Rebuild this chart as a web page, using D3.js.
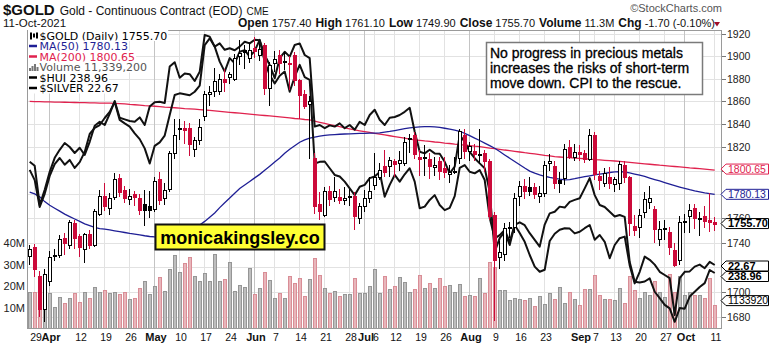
<!DOCTYPE html>
<html>
<head>
<meta charset="utf-8">
<script src="https://cdn.jsdelivr.net/npm/d3@7"></script>
<style>
  html, body { margin: 0; padding: 0; background: #fff; }
  svg { display: block; }
</style>
</head>
<body>
<svg id="chart" width="770" height="345"></svg>
<script>
// ---- Daily $GOLD continuous contract, 26-Mar-2021 .. 11-Oct-2021 ----
const firstDay = "2021-03-26";
const lastDay = "2021-10-11";
const marketHolidays = ["2021-04-02", "2021-05-31", "2021-07-05", "2021-09-06"];

const opens = [1729,1736,1713,1686,1709,1729,1730,1744,1738,1756,1745,1735,1747,1738,1764,1779,1769,1778,1794,1784,
  1776,1780,1777,1772,1770,1768,1793,1777,1785,1815,1836,1837,1837,1819,1826,1847,1867,1869,1869,1880,
  1882,1880,1900,1906,1899,1908,1901,1910,1872,1894,1901,1896,1894,1901,1879,1867,1858,1811,1772,1763,
  1783,1778,1778,1775,1779,1779,1760,1770,1777,1788,1795,1804,1804,1808,1807,1807,1828,1831,1812,1812,
  1810,1803,1808,1802,1797,1800,1811,1831,1817,1817,1814,1815,1808,1763,1728,1731,1753,1753,1779,1787,
  1786,1786,1779,1781,1807,1804,1792,1794,1820,1812,1816,1815,1810,1831,1796,1790,1795,1789,1790,1805,
  1795,1754,1753,1765,1774,1768,1743,1752,1749,1734,1726,1757,1762,1769,1760,1762,1759,1757.4];
const highs = [1738,1739,1717,1718,1733,1735,1746,1748,1759,1759,1747,1748,1750,1768,1784,1790,1781,1798,1797,1787,
  1785,1783,1780,1784,1783,1795,1799,1790,1817,1845,1845,1843,1841,1829,1845,1869,1874,1890,1884,1889,
  1886,1902,1915,1910,1912,1918,1911,1912,1895,1905,1906,1904,1900,1904,1880,1870,1865,1815,1782,1786,
  1787,1795,1785,1786,1785,1782,1773,1784,1795,1815,1807,1818,1812,1810,1817,1829,1832,1833,1818,1822,
  1815,1812,1812,1812,1805,1812,1836,1836,1825,1823,1836,1818,1810,1765,1741,1756,1757,1781,1791,1793,
  1795,1790,1787,1808,1814,1808,1799,1823,1826,1823,1822,1818,1836,1833,1800,1802,1803,1795,1808,1808,
  1796,1763,1768,1782,1787,1770,1758,1759,1753,1740,1762,1764,1772,1772,1765,1770,1781,1761.1];
const lows = [1722,1712,1680,1676,1705,1725,1727,1730,1735,1735,1728,1723,1735,1736,1762,1766,1763,1775,1778,1773,
  1771,1770,1763,1754,1760,1765,1771,1771,1782,1810,1826,1823,1813,1812,1822,1843,1856,1864,1866,1868,
  1875,1878,1892,1889,1894,1899,1896,1866,1856,1886,1884,1888,1870,1874,1845,1853,1810,1764,1759,1761,
  1770,1774,1772,1771,1770,1750,1755,1765,1773,1784,1792,1795,1795,1795,1800,1804,1815,1810,1796,1796,
  1793,1796,1792,1794,1790,1797,1806,1810,1808,1808,1806,1799,1759,1677,1718,1725,1744,1748,1770,1776,
  1779,1776,1773,1778,1800,1785,1781,1788,1810,1808,1808,1807,1808,1792,1784,1786,1785,1782,1784,1790,
  1745,1745,1744,1760,1768,1740,1737,1742,1730,1720,1722,1748,1748,1751,1745,1752,1749,1749.9];
const closes = [1735,1718,1686,1714,1728,1730,1743,1740,1757,1744,1736,1747,1738,1766,1779,1770,1777,1793,1782,1777,
  1779,1778,1767,1767,1767,1791,1775,1784,1815,1831,1837,1835,1823,1826,1838,1867,1868,1878,1880,1877,
  1884,1899,1903,1904,1906,1905,1907,1872,1892,1898,1894,1895,1893,1879,1866,1856,1860,1770,1766,1783,
  1776,1783,1775,1777,1779,1762,1770,1777,1783,1795,1801,1799,1809,1806,1809,1825,1828,1814,1810,1812,
  1804,1805,1800,1799,1799,1799,1834,1817,1821,1814,1814,1808,1762,1726,1732,1752,1752,1777,1787,1783,
  1783,1780,1781,1805,1808,1790,1790,1819,1812,1816,1814,1810,1831,1797,1792,1798,1790,1793,1806,1795,
  1756,1750,1763,1776,1777,1751,1751,1752,1736,1722,1757,1758,1767,1760,1760,1758,1757.4,1755.7];
// volume, millions of contracts
const volumes = [17.1,17.1,24.3,25.1,16.6,10.1,14.7,12.0,14.3,16.6,12.4,17.1,14.4,19.4,17.1,18.1,16.9,17.1,16.3,17.1,
  14.0,14.4,18.9,22.2,16.3,20.0,24.0,17.5,27.8,34.3,26.5,30.5,33.3,24.7,22.2,25.9,22.2,35.0,22.2,23.1,
  31.2,17.5,20.3,19.7,28.4,16.3,19.0,26.7,22.8,14.3,16.9,14.3,24.7,21.2,23.6,15.4,23.1,33.0,25.1,18.9,
  16.9,17.8,15.4,16.3,16.3,23.6,16.9,16.9,20.0,28.0,16.9,24.7,18.5,20.0,24.0,22.0,17.2,18.5,25.1,18.9,
  21.6,18.9,23.6,20.0,20.5,17.4,20.8,15.4,15.8,15.4,23.6,16.6,31.0,29.0,18.1,18.1,13.5,14.3,13.8,13.5,
  14.6,10.7,15.4,11.6,16.6,14.0,19.7,11.9,17.2,13.8,11.2,18.5,18.4,24.9,15.9,14.0,14.0,13.5,18.9,12.2,
  24.8,18.2,14.3,17.4,15.9,22.3,17.4,15.0,25.4,17.4,24.6,15.9,17.4,15.9,15.9,14.3,23.6,11.3392];
const ma50 = [1782,1780.5,1778,1774,1771,1768.5,1766,1763.5,1761.5,1759.5,1757.5,1755.5,1754,1752.5,1751.5,1751,1750.4,1749.7,1749,1748.3,
  1747.6,1747,1746.3,1745.6,1745,1744.6,1744.4,1744.5,1745,1745.8,1747,1748.5,1750,1752,1754.5,1757.5,1761,1764.5,1769,1773,
  1777,1781,1785,1788,1791,1794,1797,1800.5,1804,1807.5,1811,1815,1818.5,1821.5,1824.5,1826.5,1828,1829,1829.8,1830.4,
  1830.8,1831.1,1831.4,1831.6,1831.8,1832,1832.1,1832.2,1832.3,1832.4,1832.6,1833.2,1833.8,1834.6,1835.4,1836.2,1836.9,1837.4,1837.8,1838,
  1838,1837.8,1837.3,1836.6,1835.8,1835,1834,1832.2,1830.2,1828,1826,1823.8,1821.6,1819.3,1816.5,1813.6,1810.8,1808,1805.2,1802.4,
  1799.8,1798,1796.6,1795.4,1794.4,1793.6,1792.9,1792.4,1792.6,1793.3,1794.2,1795,1795.8,1796.5,1797.2,1797.9,1798.6,1799.2,1799.3,1799,
  1798.2,1797.3,1796.3,1795.2,1793.9,1792.6,1791.4,1790.1,1788.8,1787.5,1786.3,1785.1,1784,1783,1782.2,1781.4,1780.8,1780.13];
const ma200 = [1860,1859.9,1859.8,1859.7,1859.6,1859.5,1859.4,1859.3,1859.2,1859.1,1859,1858.9,1858.8,1858.7,1858.6,1858.6,1858.5,1858.4,1858.1,1857.8,
  1857.4,1857.1,1856.8,1856.4,1856.1,1855.8,1855.5,1855.1,1854.8,1854.5,1854.2,1853.8,1853.5,1853.2,1852.9,1852.5,1852.1,1851.7,1851.3,1850.9,
  1850.5,1850.1,1849.7,1849.3,1848.9,1848.5,1848.1,1847.7,1847.3,1846.9,1846.5,1846.1,1845.6,1845.1,1844.7,1844.2,1843.8,1842.8,1841.8,1840.8,
  1839.8,1838.9,1838,1837,1836.1,1835.1,1834.4,1833.7,1833,1832.2,1831.5,1830.8,1830.1,1829.4,1828.7,1828,1827.2,1826.5,1826.1,1825.6,
  1825.2,1824.7,1824.3,1823.8,1823.4,1822.9,1822.5,1822,1821.6,1821.1,1820.7,1820.1,1819.5,1819,1818.4,1817.8,1817.3,1816.7,1816.1,1815.5,
  1815,1814.4,1813.8,1813.2,1812.7,1812.1,1811.8,1811.5,1811.2,1810.9,1810.6,1810.3,1810,1809.6,1809.3,1809,1808.7,1808.4,1808,1807.6,
  1807.2,1806.8,1806.4,1806,1805.6,1805.2,1804.8,1804.5,1804.1,1803.7,1803.3,1802.9,1802.5,1802.2,1801.8,1801.4,1801,1800.65];
// comparison overlays
const hui = [271.2,268,259.6,263.7,269.3,273,274.9,272.8,274.3,271.8,273.6,276.8,282.4,284.3,285.2,287.4,289.3,292.4,286.8,285.7,
  284.7,282.6,280.8,277.9,273.2,278.7,279.8,281.9,288.3,294.6,295.1,294.8,294.5,295.6,297.5,310.2,312.3,309.7,305,301.9,
  306.1,304.5,308.1,308.6,306.6,308.4,311.8,305,300.8,298.2,300.6,301.9,295.6,300.3,304,300.2,299.3,273.2,273.7,273.8,
  271.7,269.6,269.1,267.5,265.4,263.3,265.9,266.5,268.6,269.1,270.5,262.8,266.5,269.6,267.5,269.8,271.7,267.5,259.2,259.7,
  261.8,263.3,260.2,258.6,259.3,263,271.8,272.7,270.6,270.1,271.1,268,256.2,249.8,250.8,252.4,248.7,254,254.8,253.9,
  251.4,249.3,247.2,254.1,257.6,258.1,259.7,259.4,261.2,261.8,262.3,265.4,268.6,263.3,260.2,259.6,258.1,256.6,257.1,256.5,
  242.4,236.2,236,236.3,237.3,233.1,231.1,229,227.9,223.7,228,227.8,231.6,233.1,234.6,235.8,239.9,238.96];
const silver = [25.25,25.15,24.17,24.55,25,25.35,25.55,25.72,25.62,25.47,25.6,25.42,25.75,26.15,26.25,26.17,26.45,26.77,26.35,26.31,
  26.27,26.25,26.36,26.17,26.63,26.74,26.75,26.72,27.63,27.74,27.35,27.46,27.44,27.27,27.5,28.42,28.38,28.13,28.21,28.05,
  28.09,28.04,28.13,28.25,28.21,28.3,28.29,27.92,27.67,27.34,27.84,28,27.88,28.17,28.21,27.92,27.84,26.13,26.17,26.09,
  26.16,26.13,26.21,26.09,26.17,26.05,26.25,26.17,26.42,26.55,26.3,26.17,26.35,26.37,26.42,26.5,26.6,26,25.5,25.46,
  25.55,25.46,25.45,25.25,24.96,25.13,25.92,25.75,25.5,25.34,25.21,25.09,24.5,23,23.34,23.5,23.17,23.67,23.47,23.25,
  22.92,22.63,22.5,22.55,23.27,23.45,23.55,23.59,23.58,23.46,23.5,23.59,23.67,23.3,23.42,23.25,22.84,23.17,23.34,23.38,
  22.66,22.21,22.5,22.88,22.8,22.68,22.5,22.42,22.34,21.42,22.34,22.5,22.51,22.63,22.68,22.59,22.75,22.67];

const priceTicks = d3.range(1680, 1921, 20);
const volumeTicks = [10, 20, 30, 40];
const dateTicks = ["2021-03-29","2021-04-01","2021-04-12","2021-04-19","2021-04-26","2021-05-03","2021-05-10",
  "2021-05-17","2021-05-24","2021-06-01","2021-06-07","2021-06-14","2021-06-21","2021-06-28","2021-07-01",
  "2021-07-06","2021-07-12","2021-07-19","2021-07-26","2021-08-02","2021-08-09","2021-08-16","2021-08-23",
  "2021-09-01","2021-09-07","2021-09-13","2021-09-20","2021-09-27","2021-10-01","2021-10-11"];
const monthStarts = ["2021-04-01","2021-05-03","2021-06-01","2021-07-01","2021-08-02","2021-09-01","2021-10-01"];
const noteLines = ["No progress in precious metals", "increases the risks of short-term", "move down. CPI to the rescue."];

// ---- trading calendar ----
const fmt = d3.timeFormat("%Y-%m-%d");
const parse = d3.timeParse("%Y-%m-%d");
const days = d3.timeDay.range(parse(firstDay), d3.timeDay.offset(parse(lastDay), 1))
  .filter(d => d.getDay() !== 0 && d.getDay() !== 6)
  .map(fmt)
  .filter(s => !marketHolidays.includes(s));

// ---- layout ----
const P = { left: 27, right: 722, top: 30, bottom: 329 };
const svg = d3.select("#chart");
const ARIAL = "'Liberation Sans', Arial, sans-serif";
const VERDANA = "'DejaVu Sans', Verdana, sans-serif";
const RED = "#cc0a3a";
const NAVY = "#1f1f95";
const MA_RED = "#e0224e";

const x = d3.scalePoint().domain(days).range([27.2, 717.2]).padding(0.5);
const cx = d => Math.round(x(d));
const y = d3.scaleLog().domain([1680, 1920]).range([316.8, 34.3]);
const yVol = d3.scaleLinear().domain([0, 40]).range([P.bottom, 243]);
const ySilver = d3.scaleLinear().domain([21.42, 28.42]).range([315, 35]);
const yHui = d3.scaleLinear().domain([223.96, 313.96]).range([321, 33]);

svg.append("rect").attr("width", 770).attr("height", 345).attr("fill", "#fff");

svg.append("defs").append("clipPath").attr("id", "plotClip")
  .append("rect").attr("x", P.left).attr("y", P.top)
  .attr("width", P.right - P.left).attr("height", P.bottom - P.top);

// ---- grid ----
const grid = svg.append("g").attr("shape-rendering", "crispEdges");
grid.selectAll("line.h").data(priceTicks).join("line")
  .attr("x1", P.left).attr("x2", P.right)
  .attr("y1", d => Math.round(y(d)) + 0.5).attr("y2", d => Math.round(y(d)) + 0.5)
  .attr("stroke", "#e2e2e2");
grid.selectAll("line.v").data(dateTicks).join("line")
  .attr("x1", d => cx(d) - 0.5).attr("x2", d => cx(d) - 0.5)
  .attr("y1", P.top).attr("y2", P.bottom)
  .attr("stroke", d => monthStarts.includes(d) ? "#c4c4c4" : "#e2e2e2");

const plot = svg.append("g").attr("clip-path", "url(#plotClip)");

const isDown = i => i > 0 && closes[i] < closes[i - 1];

// ---- volume ----
plot.append("g").selectAll("rect").data(days).join("rect")
  .attr("x", d => cx(d) - 1.5)
  .attr("y", (d, i) => Math.round(yVol(volumes[i])) + 0.5)
  .attr("width", 3)
  .attr("height", (d, i) => P.bottom - Math.round(yVol(volumes[i])))
  .attr("fill", (d, i) => isDown(i) ? "#e8b6bb" : "#bebebe")
  .attr("stroke", (d, i) => isDown(i) ? "#d98d96" : "#969696")
  .attr("stroke-width", 1)
  .attr("shape-rendering", "crispEdges");

// ---- moving averages ----
const maLine = arr => d3.line().x((d, i) => x(d)).y((d, i) => y(arr[i]))(days);
plot.append("path").attr("d", maLine(ma200)).attr("fill", "none").attr("stroke", MA_RED).attr("stroke-width", 1.3);
plot.append("path").attr("d", maLine(ma50)).attr("fill", "none").attr("stroke", NAVY).attr("stroke-width", 1.3);

// ---- overlays ----
const overlay = (arr, sc) => d3.line().x((d, i) => x(d)).y((d, i) => sc(arr[i]))(days);
plot.append("path").attr("d", overlay(hui, yHui)).attr("fill", "none").attr("stroke", "#111").attr("stroke-width", 2).attr("stroke-linejoin", "round");
plot.append("path").attr("d", overlay(silver, ySilver)).attr("fill", "none").attr("stroke", "#111").attr("stroke-width", 2).attr("stroke-linejoin", "round");

// ---- candles ----
const candles = plot.append("g").attr("shape-rendering", "crispEdges");
days.forEach((d, i) => {
  const c = cx(d);
  const col = isDown(i) ? RED : "#000";
  const top = Math.round(y(Math.max(opens[i], closes[i])));
  const bot = Math.max(top + 1, Math.round(y(Math.min(opens[i], closes[i]))));
  candles.append("line")
    .attr("x1", c - 0.5).attr("x2", c - 0.5)
    .attr("y1", y(highs[i])).attr("y2", y(lows[i]))
    .attr("stroke", col);
  candles.append("rect")
    .attr("x", c - 2).attr("y", top + 0.5)
    .attr("width", 3).attr("height", Math.max(0.01, bot - top))
    .attr("fill", closes[i] < opens[i] ? col : "#fff")
    .attr("stroke", col);
});

// ---- frame ----
svg.append("rect").attr("x", P.left + 0.5).attr("y", P.top + 0.5)
  .attr("width", P.right - P.left - 1).attr("height", P.bottom - P.top - 1)
  .attr("fill", "none").attr("stroke", "#9a9a9a").attr("shape-rendering", "crispEdges");

// ---- value flags on the right (computed first so covered tick labels can be skipped) ----
const last = days.length - 1;
const flags = [
  { yc: y(ma200[last]) - 1, label: d3.format(".2f")(ma200[last]), color: MA_RED, bold: false },
  { yc: y(ma50[last]), label: d3.format(".2f")(ma50[last]), color: NAVY, bold: false },
  { yc: y(closes[last]), label: d3.format(".2f")(closes[last]), color: "#000", bold: true },
  { yc: ySilver(silver[last]) + 1, label: d3.format(".2f")(silver[last]), color: "#000", bold: true },
  { yc: yHui(hui[last]) + 2, label: d3.format(".2f")(hui[last]), color: "#000", bold: true },
  { yc: yVol(volumes[last]) - 4, label: d3.format("d")(Math.round(volumes[last] * 1e5)), color: "#000", bold: false }
];
// keep flags from overlapping each other
flags.sort((a, b) => a.yc - b.yc);
for (let k = 1; k < flags.length; k++) {
  if (flags[k].yc - flags[k - 1].yc < 10.5) flags[k].yc = flags[k - 1].yc + 10.5;
}

// ---- right price axis ----
const axisR = svg.append("g").attr("font-family", ARIAL).attr("font-size", 10.5).attr("fill", "#222");
priceTicks.forEach(t => {
  const yy = Math.round(y(t)) + 0.5;
  axisR.append("line").attr("x1", P.right).attr("x2", P.right + 4).attr("y1", yy).attr("y2", yy)
    .attr("stroke", "#777").attr("shape-rendering", "crispEdges");
  const covered = flags.some(f => Math.abs(f.yc - yy) < 5);
  if (!covered) axisR.append("text").attr("x", P.right + 5).attr("y", yy + 3.8).text(t);
});

flags.forEach(f => {
  const g = svg.append("g");
  const yc = f.yc;
  g.append("path")
    .attr("d", `M${P.right - 1},${yc} L${P.right + 4},${yc - 5} L768.5,${yc - 5} L768.5,${yc + 5} L${P.right + 4},${yc + 5} Z`)
    .attr("fill", "#fff").attr("stroke", f.color).attr("stroke-width", 1);
  g.append("text").attr("x", P.right + 6).attr("y", yc + 3.8)
    .attr("font-family", ARIAL).attr("font-size", f.bold ? 11 : 10.5)
    .attr("font-weight", f.bold ? "bold" : "normal")
    .attr("fill", f.color).text(f.label);
});

// ---- left volume axis ----
const axisL = svg.append("g").attr("font-family", ARIAL).attr("font-size", 11).attr("fill", "#222").attr("text-anchor", "end");
volumeTicks.forEach(v => {
  axisL.append("text").attr("x", 25).attr("y", yVol(v) + 4).text(v + "M");
});

// ---- date axis ----
const axisB = svg.append("g").attr("font-family", ARIAL).attr("fill", "#111").attr("text-anchor", "middle");
const monthName = d3.timeFormat("%b");
dateTicks.forEach(d => {
  const isMonth = monthStarts.includes(d);
  axisB.append("text").attr("x", cx(d) + 1)
    .attr("y", 341)
    .attr("font-size", isMonth ? 11 : 10.5)
    .attr("font-weight", isMonth ? "bold" : "normal")
    .text(isMonth ? monthName(parse(d)) : +d.slice(8));
});

// ---- legend ----
const legendRows = [
  { text: "$GOLD (Daily) " + d3.format(".2f")(closes[last]), color: "#000", icon: "candle" },
  { text: "MA(50) " + d3.format(".2f")(ma50[last]), color: NAVY, icon: "line" },
  { text: "MA(200) " + d3.format(".2f")(ma200[last]), color: MA_RED, icon: "line" },
  { text: "Volume " + d3.format(",")(Math.round(volumes[last] * 1e6)), color: "#555", icon: "bars" },
  { text: "$HUI " + d3.format(".2f")(hui[last]), color: "#000", icon: "line" },
  { text: "$SILVER " + d3.format(".2f")(silver[last]), color: "#000", icon: "line" }
];
const lg = svg.append("g");
legendRows.forEach((r, k) => {
  const yc = 35.5 + k * 10.5;
  const bg = lg.append("rect").attr("x", 28).attr("y", yc - 5.5).attr("height", 11).attr("fill", "#fff");
  if (r.icon === "line") {
    lg.append("line").attr("x1", 29).attr("x2", 37).attr("y1", yc).attr("y2", yc)
      .attr("stroke", r.color).attr("stroke-width", 2.5);
  } else if (r.icon === "candle") {
    [[30, 3, 7], [33, 2, 5], [36, 3, 6]].forEach(([bx, h1, h2]) => {
      lg.append("rect").attr("x", bx).attr("y", yc - h1).attr("width", 2).attr("height", h1 + h2 - 3).attr("fill", "#000");
    });
  } else {
    [[29, 3], [31.5, 5], [34, 7], [36.5, 4]].forEach(([bx, h]) => {
      lg.append("rect").attr("x", bx).attr("y", yc + 4 - h).attr("width", 2).attr("height", h).attr("fill", "#777");
    });
  }
  const t = lg.append("text").attr("x", 39.5).attr("y", yc + 4)
    .attr("font-family", VERDANA).attr("font-size", 11).attr("fill", r.color).text(r.text);
  bg.attr("width", 12.5 + t.node().getComputedTextLength());
});

// ---- comment box ----
const note = svg.append("g");
note.append("rect").attr("x", 486.5).attr("y", 42.5).attr("width", 216).attr("height", 52)
  .attr("fill", "#fff").attr("stroke", "#7a7a7a").attr("stroke-width", 1.5);
noteLines.forEach((t, k) => {
  note.append("text").attr("x", 490).attr("y", 58 + k * 15)
    .attr("font-family", ARIAL).attr("font-size", 14).attr("fill", "#000")
    .attr("stroke", "#000").attr("stroke-width", 0.3).text(t);
});

// ---- site badge ----
const badge = svg.append("g");
badge.append("rect").attr("x", 155.5).attr("y", 224.5).attr("width", 169).attr("height", 25)
  .attr("fill", "#ffff33").attr("stroke", "#111").attr("stroke-width", 2);
badge.append("text").attr("x", 240).attr("y", 243.5).attr("text-anchor", "middle")
  .attr("font-family", ARIAL).attr("font-weight", "bold").attr("font-size", 18).attr("fill", "#000")
  .text("monicakingsley.co");

// ---- header ----
const head = svg.append("g").attr("font-family", ARIAL).attr("fill", "#111");
const t1 = head.append("text").attr("x", 3).attr("y", 15);
t1.append("tspan").attr("font-weight", "bold").attr("font-size", 15).text("$GOLD");
t1.append("tspan").attr("font-size", 12).attr("dx", 5).text("Gold - Continuous Contract (EOD)");
t1.append("tspan").attr("font-size", 10).attr("dx", 4).text("CME");
head.append("text").attr("x", 3).attr("y", 27).attr("font-size", 11.5).text("11-Oct-2021");

const quote = [["Open", "1757.40"], ["High", "1761.10"], ["Low", "1749.90"], ["Close", "1755.70"], ["Volume", "11.3M"], ["Chg", "-1.70 (-0.10%)"]];
const t2 = head.append("text").attr("x", 238).attr("y", 27);
quote.forEach(([k, v], n) => {
  t2.append("tspan").attr("font-weight", "bold").attr("font-size", 12).attr("dx", n ? 4 : 0).text(k);
  t2.append("tspan").attr("font-size", 11).attr("dx", 3).text(v);
});
head.append("path").attr("d", "M714,22 L720,22 L717,26.5 Z").attr("fill", "#a0102a");
head.append("text").attr("x", 722).attr("y", 12).attr("text-anchor", "end")
  .attr("font-size", 11).attr("fill", "#555").text("\u00A9StockCharts.com");
</script>
</body>
</html>
